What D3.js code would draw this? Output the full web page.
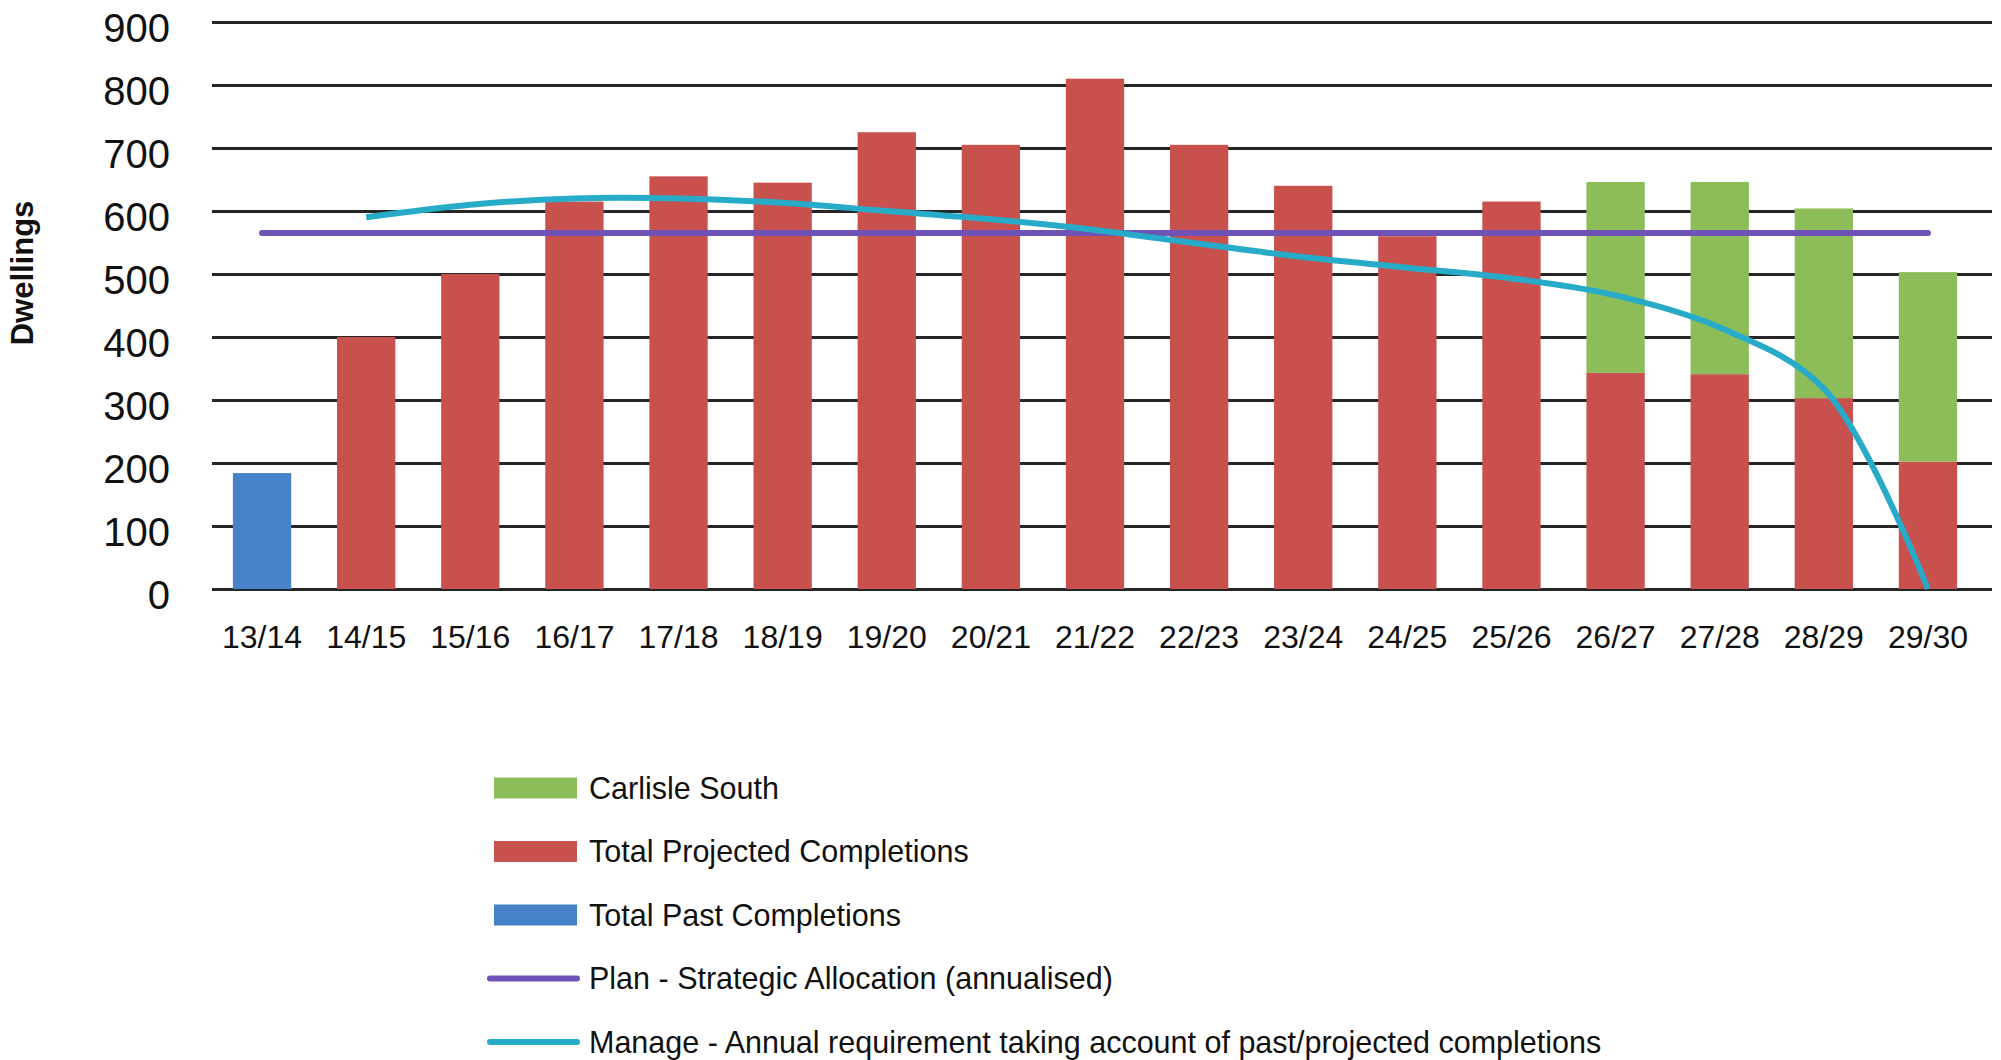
<!DOCTYPE html>
<html>
<head>
<meta charset="utf-8">
<script src="https://cdn.jsdelivr.net/npm/d3@7"></script>
<style>
  body { margin: 0; background: #fff; }
  svg { display: block; font-family: "Liberation Sans", Arial, sans-serif; }
</style>
</head>
<body>
<svg id="chart"></svg>
<script>
// housing trajectory: past / projected completions, plan and manage lines

var categories = ["13/14", "14/15", "15/16", "16/17", "17/18", "18/19", "19/20", "20/21", "21/22",
    "22/23", "23/24", "24/25", "25/26", "26/27", "27/28", "28/29", "29/30"];

var pastCompletions = [184, 0, 0, 0, 0, 0, 0, 0, 0, 0, 0, 0, 0, 0, 0, 0, 0],
    projectedCompletions = [0, 400, 500, 615, 655, 645, 725, 705, 810, 705, 640, 560, 615, 343, 341, 303, 202],
    carlisleSouth = [0, 0, 0, 0, 0, 0, 0, 0, 0, 0, 0, 0, 0, 303, 305, 301, 301];

var planAllocation = [565, 565, 565, 565, 565, 565, 565, 565, 565, 565, 565, 565, 565, 565, 565, 565, 565],
    manageRequirement = [null, 590, 610, 620, 620, 613, 600, 587, 570, 548, 527, 510, 493, 466, 415, 318, 0];

var yTicks = [0, 100, 200, 300, 400, 500, 600, 700, 800, 900];

var svgWidth = 2001,
    svgHeight = 1060,
    plotLeft = 212,
    plotRight = 1992,
    plotTop = 22,
    plotBottom = 589;

var colors = {
    past: "#4582c9",
    projected: "#c8504d",
    carlisle: "#8dbd58",
    plan: "#6e52b5",
    manage: "#27abc8"
};

var svg = d3.select("#chart")
    .attr("width", svgWidth)
    .attr("height", svgHeight);

var x = d3.scaleBand()
    .domain(categories)
    .range([210, 1980])
    .paddingInner(0.44)
    .paddingOuter(0.22);

var y = d3.scaleLinear()
    .domain([0, 900])
    .range([plotBottom, plotTop]);

// gridlines + y labels
var yAxis = svg.append("g")
    .attr("transform", "translate(" + plotLeft + ",0)")
    .call(d3.axisLeft(y).tickValues(yTicks).tickSize(-(plotRight - plotLeft)).tickPadding(42));
yAxis.select(".domain").remove();
yAxis.selectAll(".tick line")
    .attr("stroke", "#262626")
    .attr("stroke-width", 3);
yAxis.selectAll(".tick text")
    .attr("font-size", 40)
    .attr("fill", "#111")
    .attr("transform", "translate(0,7)");

svg.append("text")
    .attr("transform", "translate(33,273) rotate(-90)")
    .attr("text-anchor", "middle")
    .attr("font-size", 31)
    .attr("font-weight", "bold")
    .attr("fill", "#111")
    .text("Dwellings");

// stacked bars
var table = categories.map(function (c, i) {
    return { cat: c, past: pastCompletions[i], projected: projectedCompletions[i], carlisle: carlisleSouth[i] };
});

var stack = d3.stack().keys(["past", "projected", "carlisle"]);
var series = stack(table);

svg.append("g")
    .selectAll("g")
    .data(series)
    .enter()
    .append("g")
    .attr("fill", function (s) { return colors[s.key]; })
    .selectAll("rect")
    .data(function (s) { return s; })
    .enter()
    .append("rect")
    .attr("x", function (d) { return x(d.data.cat); })
    .attr("width", x.bandwidth())
    .attr("y", function (d) { return y(d[1]); })
    .attr("height", function (d) { return y(d[0]) - y(d[1]); });

// x labels
var xAxis = svg.append("g")
    .attr("transform", "translate(0," + plotBottom + ")")
    .call(d3.axisBottom(x).tickSize(0).tickPadding(36));
xAxis.select(".domain").remove();
xAxis.selectAll(".tick text")
    .attr("font-size", 32)
    .attr("fill", "#111");

// lines
var cx = function (d, i) { return x(categories[i]) + x.bandwidth() / 2; };

var planLine = d3.line()
    .x(cx)
    .y(function (d) { return y(d); });

svg.append("path")
    .datum(planAllocation)
    .attr("fill", "none")
    .attr("stroke", colors.plan)
    .attr("stroke-width", 6)
    .attr("stroke-linecap", "round")
    .attr("d", planLine);

var manageLine = d3.line()
    .defined(function (d) { return d !== null; })
    .x(cx)
    .y(function (d) { return y(d); })
    .curve(d3.curveCatmullRom.alpha(0.5));

svg.append("path")
    .datum(manageRequirement)
    .attr("fill", "none")
    .attr("stroke", colors.manage)
    .attr("stroke-width", 6)
    .attr("d", manageLine);

// legend
var legendItems = [
    { label: "Carlisle South", color: colors.carlisle, type: "rect" },
    { label: "Total Projected Completions", color: colors.projected, type: "rect" },
    { label: "Total Past Completions", color: colors.past, type: "rect" },
    { label: "Plan - Strategic Allocation (annualised)", color: colors.plan, type: "line" },
    { label: "Manage - Annual requirement taking account of past/projected completions", color: colors.manage, type: "line" }
];

var legend = svg.append("g")
    .selectAll("g")
    .data(legendItems)
    .enter()
    .append("g")
    .attr("transform", function (d, i) { return "translate(0," + (788 + i * 63.5) + ")"; });

legend.filter(function (d) { return d.type === "rect"; })
    .append("rect")
    .attr("x", 494)
    .attr("y", -10.5)
    .attr("width", 83)
    .attr("height", 21)
    .attr("fill", function (d) { return d.color; });

legend.filter(function (d) { return d.type === "line"; })
    .append("line")
    .attr("x1", 490)
    .attr("x2", 577)
    .attr("stroke", function (d) { return d.color; })
    .attr("stroke-width", 6)
    .attr("stroke-linecap", "round");

legend.append("text")
    .attr("x", 589)
    .attr("dy", "0.36em")
    .attr("font-size", 30.5)
    .attr("fill", "#111")
    .text(function (d) { return d.label; });
</script>
</body>
</html>
